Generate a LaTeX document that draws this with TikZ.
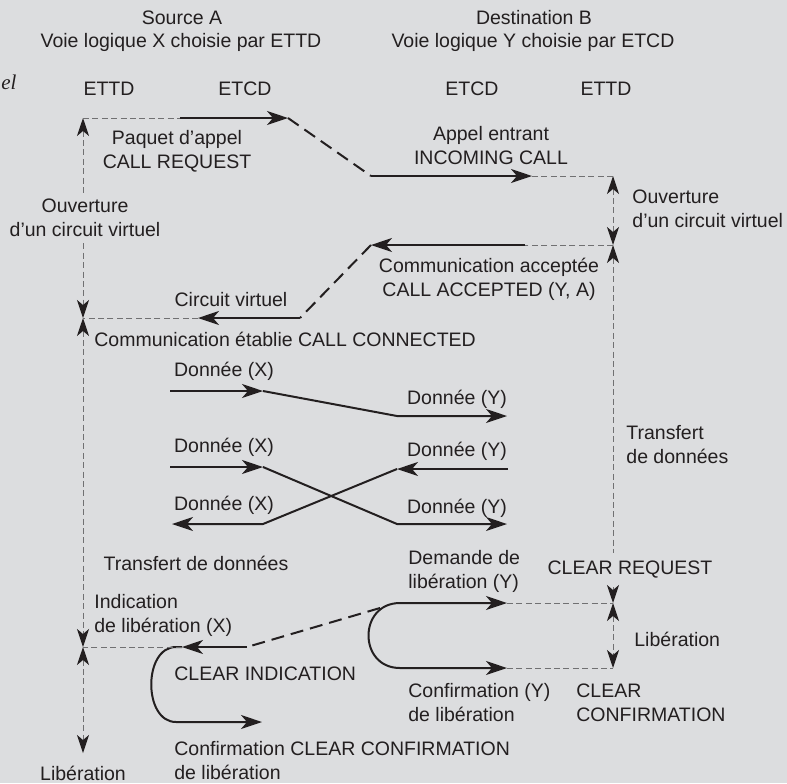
\documentclass[tikz,border=0pt]{standalone}
\usepackage{fontspec}
\setmainfont{Liberation Sans}
\newfontfamily\serifface{Liberation Serif}
\usetikzlibrary{arrows.meta}
\definecolor{bg}{RGB}{220,221,223}
\definecolor{ink}{RGB}{35,31,32}
\definecolor{guidegray}{RGB}{112,112,114}
\tikzset{
  tipH/.tip={Stealth[length=10.5pt,width=7pt,inset=3pt,color=ink]},
  tipV/.tip={Stealth[length=9pt,width=6pt,inset=2.5pt,color=ink]},
  lbl/.style={inner sep=0pt, text=ink, font=\fontsize{9.75}{12}\selectfont, align=center},
  lblL/.style={lbl, align=left, anchor=west},
  msg/.style={draw=ink, line width=1pt},
  link/.style={draw=ink, line width=1pt, dash pattern=on 6.5pt off 3.5pt},
  guide/.style={draw=guidegray, line width=0.5pt, dash pattern=on 3pt off 1.7pt},
}
\begin{document}
\begin{tikzpicture}[x=0.5pt,y=-0.5pt]
\fill[bg] (0,0) rectangle (787,783);
\useasboundingbox (0,0) rectangle (787,783);

% ---------- headers ----------
\node[lbl] (srcA) at (182,18) {Source A};
\node[lbl] (voieX) at (181,42) {Voie logique X choisie par ETTD};
\node[lbl] (dstB) at (534,18) {Destination B};
\node[lbl] (voieY) at (533,42) {Voie logique Y choisie par ETCD};
\node[inner sep=0pt, anchor=base west, text=ink, font=\fontsize{10.5}{12}\serifface\itshape] (frag) at (1,89) {el};
\node[lbl] (ettdL) at (109,89) {ETTD};
\node[lbl] (etcdL) at (245,89) {ETCD};
\node[lbl] (etcdR) at (472,89) {ETCD};
\node[lbl] (ettdR) at (606,89) {ETTD};

% ---------- labels ----------
\node[lbl] (paquet) at (177,151) {Paquet d'appel\\CALL REQUEST};
\node[lbl] (appel) at (491,146) {Appel entrant\\INCOMING CALL};
\node[lbl, fill=bg, inner ysep=3pt, inner xsep=1pt] (ouvL) at (85,218) {Ouverture\\d'un circuit virtuel};
\node[lblL] (ouvR) at (632,209) {Ouverture\\d'un circuit virtuel};
\node[lbl] (commAcc) at (489,279) {Communication acceptée\\CALL ACCEPTED (Y, A)};
\node[lbl] (circVirt) at (231,300) {Circuit virtuel};
\node[lblL] (commEtab) at (94,339) {Communication établie CALL CONNECTED};
\node[lbl] (dX1) at (224,371) {Donnée (X)};
\node[lbl] (dY1) at (457,399) {Donnée (Y)};
\node[lbl] (dX2) at (224,447) {Donnée (X)};
\node[lbl] (dY2) at (457,451) {Donnée (Y)};
\node[lbl] (dX3) at (224,505) {Donnée (X)};
\node[lbl] (dY3) at (457,508) {Donnée (Y)};
\node[lblL] (transR) at (626,445) {Transfert\\de données};
\node[lbl] (transL) at (196,563) {Transfert de données};
\node[lblL] (demande) at (408,571) {Demande de\\libération (Y)};
\node[lbl, fill=bg, inner ysep=4pt, inner xsep=1pt] (clearReq) at (630,570) {CLEAR REQUEST};
\node[lblL] (indic) at (94,615) {Indication\\de libération (X)};
\node[lblL] (libR) at (634,639) {Libération};
\node[lblL] (clearInd) at (174,674) {CLEAR INDICATION};
\node[lblL] (confY) at (408,703) {Confirmation (Y)\\de libération};
\node[lblL] (clearConf) at (576,703) {CLEAR\\CONFIRMATION};
\node[lblL] (confL) at (174,761) {Confirmation CLEAR CONFIRMATION\\de libération};
\node[lbl] (libL) at (83,773) {Libération};

% ---------- coordinates ----------
\coordinate (crA) at (83,118);
\coordinate (crS) at (180,118);
\coordinate (crT) at (288,118);
\coordinate (icS) at (371,176);
\coordinate (icT) at (532,176);
\coordinate (icB) at (613,176);
\coordinate (caB) at (613,245);
\coordinate (caS) at (525,245);
\coordinate (caT) at (371,245);
\coordinate (cvS) at (300,318);
\coordinate (cvT) at (198,318);
\coordinate (cvA) at (83,318);
\coordinate (d1a) at (170,391);
\coordinate (d1b) at (263,391);
\coordinate (d1c) at (397,416);
\coordinate (d1d) at (507,416);
\coordinate (d2a) at (170,467);
\coordinate (d2b) at (263,467);
\coordinate (d2c) at (397,524);
\coordinate (d2d) at (507,524);
\coordinate (d3a) at (508,469);
\coordinate (d3b) at (397,469);
\coordinate (d3c) at (263,524);
\coordinate (d3d) at (172,524);
\coordinate (rlA) at (507,603);
\coordinate (rlB) at (400,603);
\coordinate (rlC) at (400,668);
\coordinate (rlD) at (507,668);
\coordinate (rqB) at (613,603);
\coordinate (rcB) at (613,668);
\coordinate (dj) at (380,608);
\coordinate (llS) at (247,647);
\coordinate (llT) at (182,647);
\coordinate (llB) at (176,647);
\coordinate (llC) at (176,722);
\coordinate (llD) at (262,722);
\coordinate (ciA) at (83,647);
\coordinate (lEnd) at (83,753);

% ---------- lifelines ----------
\draw[guide, {tipV}-] (crA) -- (ouvL.north -| crA);
\draw[guide, -{tipV}] (ouvL.south -| crA) -- (cvA);
\draw[guide, {tipV}-{tipV}] (cvA) -- (ciA);
\draw[guide, {tipV}-{tipV}] (ciA) -- (lEnd);
\draw[guide, {tipV}-{tipV}] (icB) -- (caB);
\draw[guide, {tipV}-] (caB) -- (clearReq.north -| caB);
\draw[guide, -{tipV}] (clearReq.south -| caB) -- (rqB);
\draw[guide, {tipV}-{tipV}] (rqB) -- (rcB);

% ---------- call set-up ----------
\draw[guide] (crA) -- (crS);
\draw[msg, -{tipH}] (crS) -- (crT);
\draw[link] (crT) -- (icS);
\draw[msg, -{tipH}] (icS) -- (icT);
\draw[guide] (icT) -- (icB);

\draw[guide] (caB) -- (caS);
\draw[msg, -{tipH}] (caS) -- (caT);
\draw[link] (caT) -- (cvS);
\draw[msg, -{tipH}] (cvS) -- (cvT);
\draw[guide] (cvT) -- (cvA);

% ---------- data ----------
\draw[msg, -{tipH}] (d1a) -- (d1b);
\draw[msg, -{tipH}] (d1b) -- (d1c) -- (d1d);
\draw[msg, -{tipH}] (d2a) -- (d2b);
\draw[msg, -{tipH}] (d2b) -- (d2c) -- (d2d);
\draw[msg, -{tipH}] (d3a) -- (d3b);
\draw[msg, -{tipH}] (d3b) -- (d3c) -- (d3d);

% ---------- clearing ----------
\draw[msg, {tipH}-{tipH}] (rlA) -- (rlB) .. controls (358,603) and (358,668) .. (rlC) -- (rlD);
\draw[guide] (rlA) -- (rqB);
\draw[guide] (rlD) -- (rcB);
\draw[link] (dj) -- (llS);
\draw[msg, -{tipH}] (llS) -- (llT);
\draw[msg, -{tipH}] (llT) -- (llB) .. controls (143,647) and (143,722) .. (llC) -- (llD);
\draw[guide] (llT) -- (ciA);
\end{tikzpicture}
\end{document}
